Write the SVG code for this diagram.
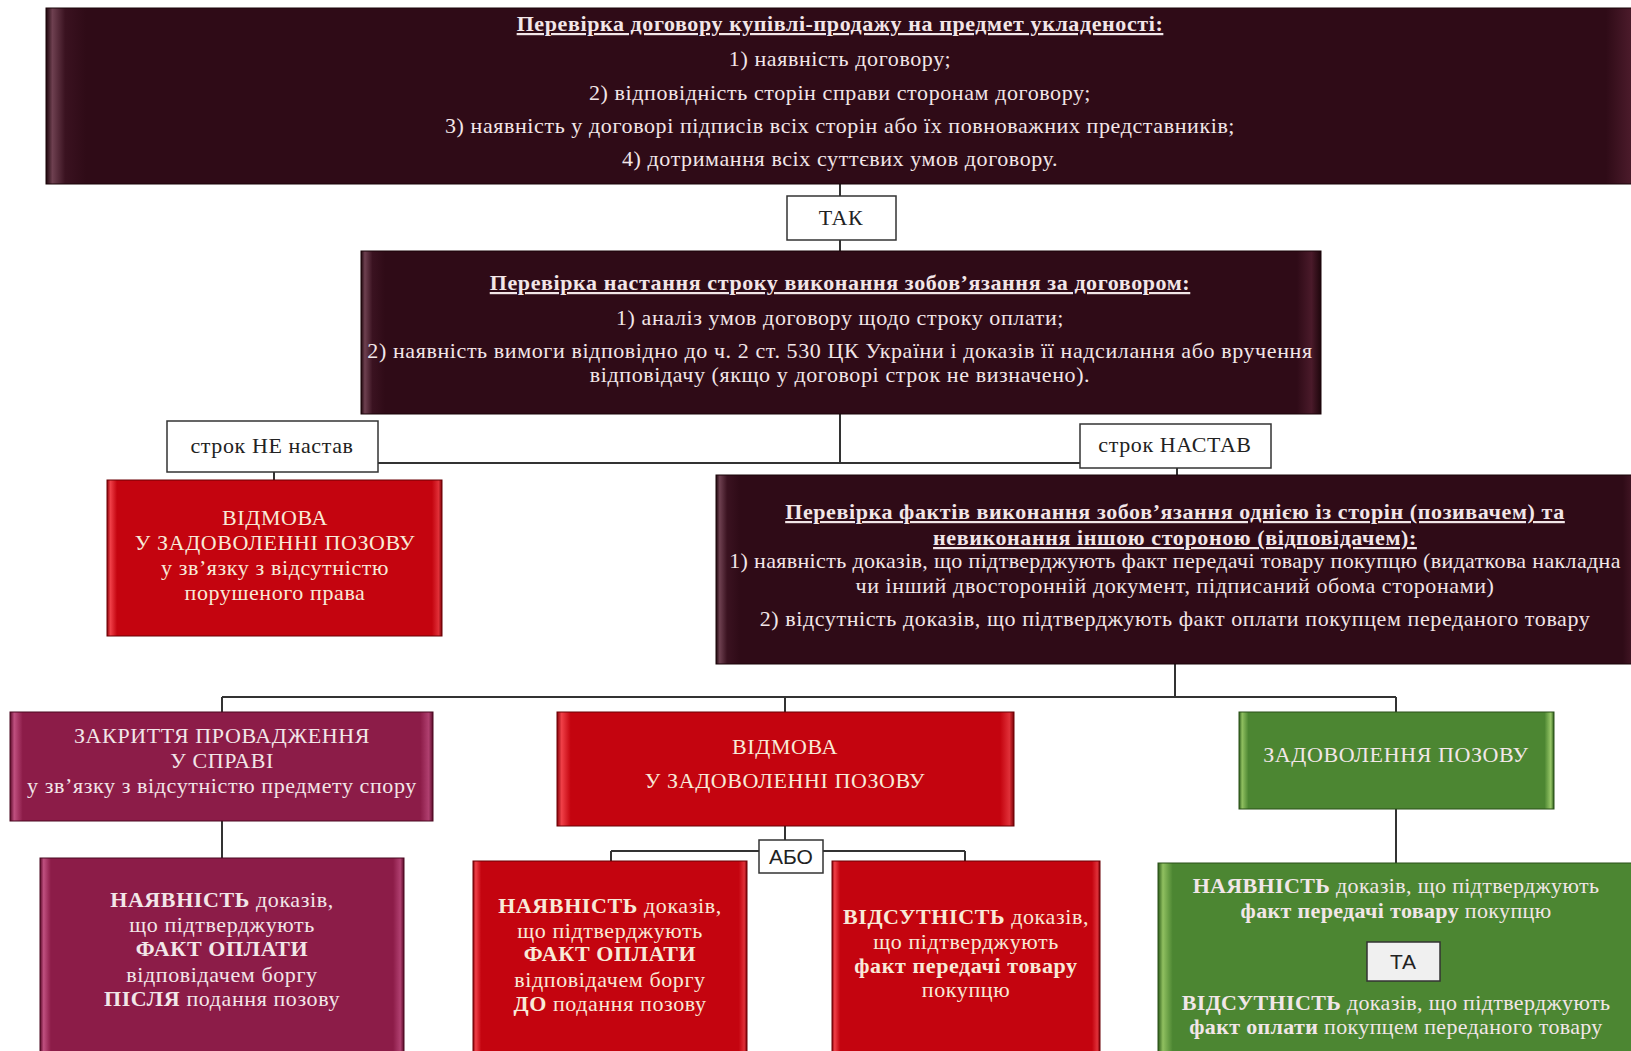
<svg xmlns="http://www.w3.org/2000/svg" width="1631" height="1051" viewBox="0 0 1631 1051">
<defs>
<linearGradient id="gDark" x1="0" y1="0" x2="1" y2="0">
<stop offset="0" stop-color="#1e060c"/><stop offset="0.004" stop-color="#6e4050"/><stop offset="0.012" stop-color="#3a1220"/><stop offset="0.025" stop-color="#2f0b17"/><stop offset="0.975" stop-color="#2f0b17"/><stop offset="0.99" stop-color="#4a1a2a"/><stop offset="1" stop-color="#1e060c"/>
</linearGradient>
<linearGradient id="gRed" x1="0" y1="0" x2="1" y2="0">
<stop offset="0" stop-color="#8a0008"/><stop offset="0.01" stop-color="#f04048"/><stop offset="0.03" stop-color="#c4040f"/><stop offset="0.97" stop-color="#c4040f"/><stop offset="0.99" stop-color="#e03038"/><stop offset="1" stop-color="#7a0006"/>
</linearGradient>
<linearGradient id="gPurple" x1="0" y1="0" x2="1" y2="0">
<stop offset="0" stop-color="#5a0a28"/><stop offset="0.01" stop-color="#c05080"/><stop offset="0.03" stop-color="#8c1c48"/><stop offset="0.97" stop-color="#8c1c48"/><stop offset="0.99" stop-color="#b04070"/><stop offset="1" stop-color="#5a0a28"/>
</linearGradient>
<linearGradient id="gGreen" x1="0" y1="0" x2="1" y2="0">
<stop offset="0" stop-color="#2a5a18"/><stop offset="0.01" stop-color="#90c060"/><stop offset="0.03" stop-color="#4c8632"/><stop offset="0.97" stop-color="#4c8632"/><stop offset="0.99" stop-color="#98c868"/><stop offset="1" stop-color="#2a5a18"/>
</linearGradient>
</defs>
<style>
.dark{fill:url(#gDark);stroke:#1a0509;stroke-width:1}
.red{fill:url(#gRed);stroke:#6a0005;stroke-width:1}
.purple{fill:url(#gPurple);stroke:#4a0820;stroke-width:1}
.green{fill:url(#gGreen);stroke:#2a5018;stroke-width:1}
.lbl{fill:#ffffff;stroke:#333333;stroke-width:1.5}
.lblt{fill:#222222;font-family:"Liberation Serif",serif;font-size:22px;letter-spacing:0.6px;text-anchor:middle}
.lbls{fill:#222222;font-family:"Liberation Sans",sans-serif;font-size:21px;text-anchor:middle}
.t{fill:#f2e6e8;font-family:"Liberation Serif",serif;font-size:22px;letter-spacing:0.6px;text-anchor:middle}
.tc{fill:#f8ead8;font-family:"Liberation Serif",serif;font-size:22px;letter-spacing:0.6px;text-anchor:middle}
.tn{letter-spacing:0.35px}
.h{font-weight:bold;text-decoration:underline}
.b{font-weight:bold}
.conn line{stroke:#333333;stroke-width:2}
</style>

<g id="connectors" class="conn">
<line x1="840" y1="184" x2="840" y2="251"/>
<line x1="840" y1="414" x2="840" y2="463"/>
<line x1="378" y1="463" x2="1080" y2="463"/>
<line x1="274" y1="472" x2="274" y2="480"/>
<line x1="1177" y1="468" x2="1177" y2="475"/>
<line x1="1175" y1="664" x2="1175" y2="697"/>
<line x1="222" y1="697" x2="1396" y2="697"/>
<line x1="222" y1="697" x2="222" y2="712"/>
<line x1="785" y1="697" x2="785" y2="712"/>
<line x1="1396" y1="697" x2="1396" y2="712"/>
<line x1="222" y1="821" x2="222" y2="858"/>
<line x1="785" y1="826" x2="785" y2="840"/>
<line x1="611" y1="851" x2="759" y2="851"/>
<line x1="823" y1="851" x2="965" y2="851"/>
<line x1="611" y1="851" x2="611" y2="861"/>
<line x1="965" y1="851" x2="965" y2="861"/>
<line x1="1396" y1="809" x2="1396" y2="863"/>
</g>

<g id="n-check-contract">
<rect class="dark" x="46" y="8" width="1600" height="176"/>
<text class="t h" x="840" y="31">Перевірка договору купівлі-продажу на предмет укладеності:</text>
<text class="t" x="840" y="66">1) наявність договору;</text>
<text class="t" x="840" y="100">2) відповідність сторін справи сторонам договору;</text>
<text class="t" x="840" y="133">3) наявність у договорі підписів всіх сторін або їх повноважних представників;</text>
<text class="t" x="840" y="166">4) дотримання всіх суттєвих умов договору.</text>
</g>

<g id="l-tak">
<rect class="lbl" x="787" y="196" width="109" height="44"/>
<text class="lblt" x="841" y="225">ТАК</text>
</g>

<g id="n-check-term">
<rect class="dark" x="361" y="251" width="960" height="163"/>
<text class="t h" x="840" y="290">Перевірка настання строку виконання зобов’язання за договором:</text>
<text class="t" x="840" y="325">1) аналіз умов договору щодо строку оплати;</text>
<text class="t" x="840" y="358">2) наявність вимоги відповідно до ч. 2 ст. 530 ЦК України і доказів її надсилання або вручення</text>
<text class="t" x="840" y="382">відповідачу (якщо у договорі строк не визначено).</text>
</g>

<g id="l-not-come">
<rect class="lbl" x="167" y="421" width="211" height="51"/>
<text class="lblt" x="272" y="453">строк НЕ настав</text>
</g>

<g id="l-come">
<rect class="lbl" x="1080" y="424" width="191" height="44"/>
<text class="lblt" x="1175" y="452">строк НАСТАВ</text>
</g>

<g id="n-refuse-1">
<rect class="red" x="107" y="480" width="335" height="156"/>
<text class="tc" x="275" y="525">ВІДМОВА</text>
<text class="tc" x="275" y="550">У ЗАДОВОЛЕННІ ПОЗОВУ</text>
<text class="tc" x="275" y="575">у зв’язку з відсутністю</text>
<text class="tc" x="275" y="600">порушеного права</text>
</g>

<g id="n-check-facts">
<rect class="dark" x="716" y="475" width="930" height="189"/>
<text class="t h" x="1175" y="519">Перевірка фактів виконання зобов’язання однією із сторін (позивачем)  та</text>
<text class="t h" x="1175" y="545">невиконання іншою стороною (відповідачем):</text>
<text class="t tn" x="1175" y="568">1) наявність доказів, що підтверджують факт передачі товару покупцю (видаткова накладна</text>
<text class="t" x="1175" y="593">чи інший двосторонній документ, підписаний обома сторонами)</text>
<text class="t" x="1175" y="626">2) відсутність доказів, що підтверджують факт оплати покупцем переданого товару</text>
</g>

<g id="n-close">
<rect class="purple" x="10" y="712" width="423" height="109"/>
<text class="t" x="222" y="743">ЗАКРИТТЯ ПРОВАДЖЕННЯ</text>
<text class="t" x="222" y="768">У СПРАВІ</text>
<text class="t" x="222" y="793">у зв’язку з відсутністю предмету спору</text>
</g>

<g id="n-refuse-2">
<rect class="red" x="557" y="712" width="457" height="114"/>
<text class="tc" x="785" y="754">ВІДМОВА</text>
<text class="tc" x="785" y="788">У ЗАДОВОЛЕННІ ПОЗОВУ</text>
</g>

<g id="n-satisfy">
<rect class="green" x="1239" y="712" width="315" height="97"/>
<text class="t" x="1396" y="762">ЗАДОВОЛЕННЯ ПОЗОВУ</text>
</g>

<g id="n-close-reason">
<rect class="purple" x="40" y="858" width="364" height="200"/>
<text class="t" x="222" y="907"><tspan class="b">НАЯВНІСТЬ</tspan> доказів,</text>
<text class="t" x="222" y="932">що підтверджують</text>
<text class="t b" x="222" y="956">ФАКТ ОПЛАТИ</text>
<text class="t" x="222" y="982">відповідачем боргу</text>
<text class="t" x="222" y="1006"><tspan class="b">ПІСЛЯ</tspan> подання позову</text>
</g>

<g id="l-abo">
<rect class="lbl" x="759" y="840" width="64" height="33"/>
<text class="lbls" x="791" y="864">АБО</text>
</g>

<g id="n-refuse-a">
<rect class="red" x="473" y="861" width="274" height="200"/>
<text class="tc" x="610" y="913"><tspan class="b">НАЯВНІСТЬ</tspan> доказів,</text>
<text class="tc" x="610" y="938">що підтверджують</text>
<text class="tc b" x="610" y="961">ФАКТ ОПЛАТИ</text>
<text class="tc" x="610" y="987">відповідачем боргу</text>
<text class="tc" x="610" y="1011"><tspan class="b">ДО</tspan> подання позову</text>
</g>

<g id="n-refuse-b">
<rect class="red" x="832" y="861" width="268" height="200"/>
<text class="tc" x="966" y="924"><tspan class="b">ВІДСУТНІСТЬ</tspan> доказів,</text>
<text class="tc" x="966" y="949">що підтверджують</text>
<text class="tc b" x="966" y="973">факт передачі товару</text>
<text class="tc" x="966" y="997">покупцю</text>
</g>

<g id="n-satisfy-reason">
<rect class="green" x="1158" y="863" width="490" height="200"/>
<text class="t tn" x="1396" y="893"><tspan class="b">НАЯВНІСТЬ</tspan> доказів, що підтверджують</text>
<text class="t tn" x="1396" y="918"><tspan class="b">факт передачі товару</tspan> покупцю</text>
<text class="t tn" x="1396" y="1010"><tspan class="b">ВІДСУТНІСТЬ</tspan> доказів, що підтверджують</text>
<text class="t tn" x="1396" y="1034"><tspan class="b">факт оплати</tspan> покупцем переданого товару</text>
</g>

<g id="l-ta">
<rect class="lbl" x="1367" y="942" width="73" height="39" style="fill:#f0f0f0"/>
<text class="lbls" x="1403" y="969">ТА</text>
</g>
</svg>
